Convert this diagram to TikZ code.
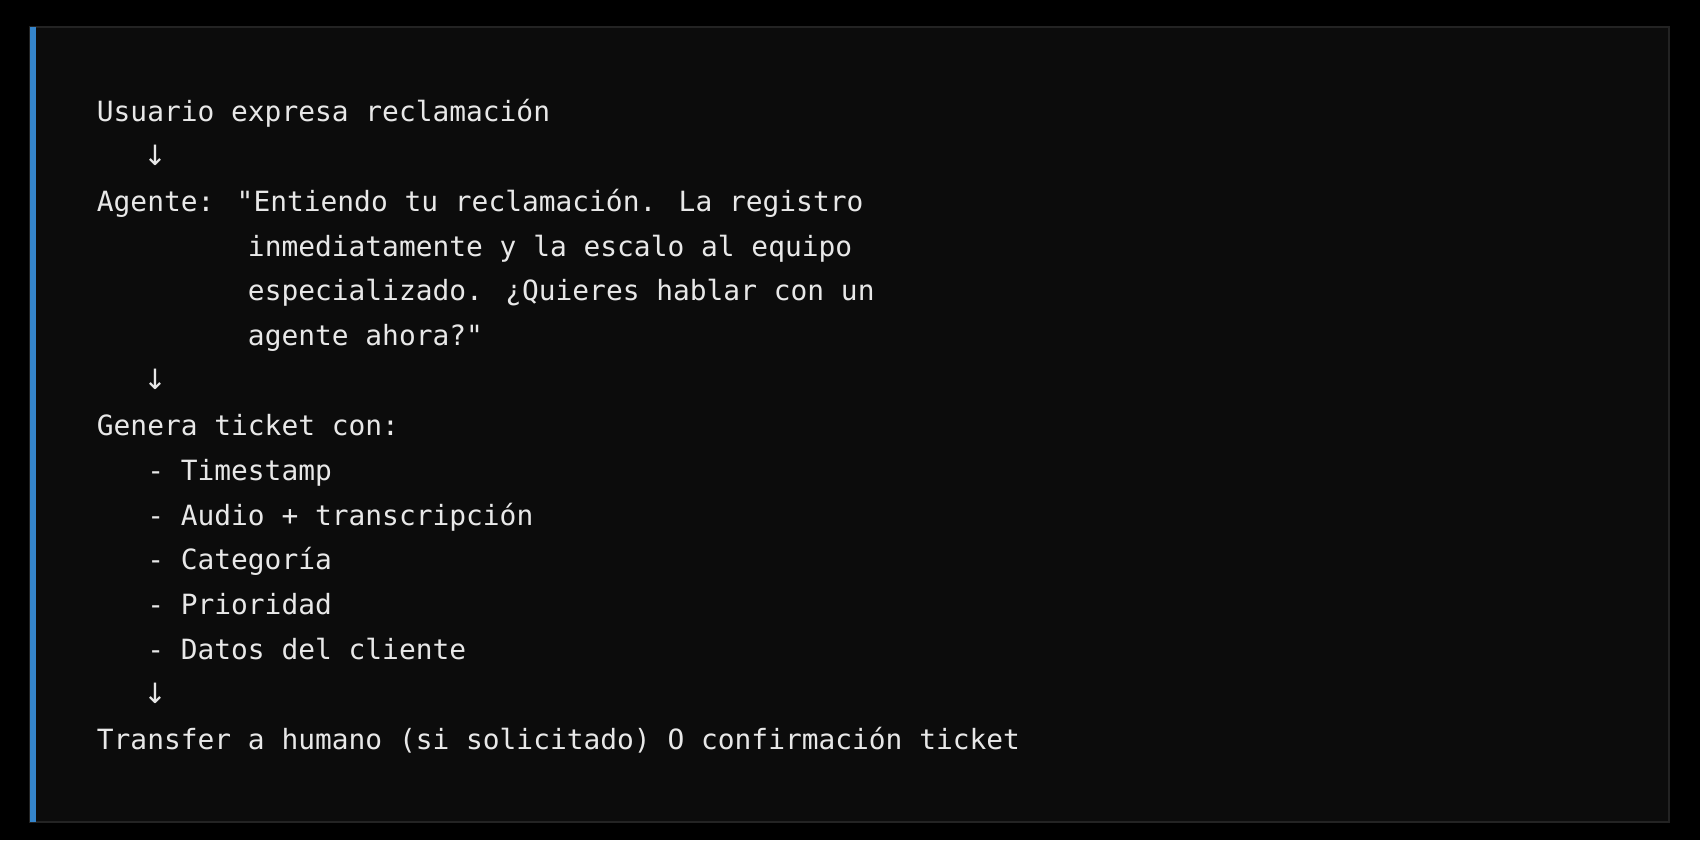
\documentclass[tikz,border=0pt]{standalone}
\usepackage{fontspec}
\newfontfamily\codefont{DejaVu Sans Mono}
\newfontfamily\arrowfont{DejaVu Sans}
\definecolor{boxbg}{HTML}{0C0C0C}
\definecolor{boxborder}{HTML}{232323}
\definecolor{accent}{HTML}{3585CB}
\definecolor{codetext}{HTML}{E8E8E8}
\begin{document}
\begin{tikzpicture}[x=0.5pt,y=-0.5pt,
  codeline/.style={anchor=base west, inner sep=0pt, text=codetext,
    font=\codefont\fontsize{13.94pt}{16pt}\selectfont},
  arrowline/.style={anchor=base, inner sep=0pt, text=codetext,
    font=\arrowfont\fontsize{14pt}{16pt}\selectfont}]
\fill[black] (0,0) rectangle (1700,840);
\path[use as bounding box] (0,0) rectangle (1700,840);
\draw[fill=boxbg, draw=boxborder, line width=1pt] (30,27) rectangle (1669,822);
\fill[accent] (30,27) rectangle (35.5,822);
\node[codeline] (l1)  at (96.5,121.5) {Usuario expresa reclamación};
\node[arrowline] (a1)  at (155,165.5) {↓};
\node[codeline] (l2)  at (96.5,211.2) {Agente: "Entiendo tu reclamación. La registro};
\node[codeline] (l3)  at (96.5,256.0) {\hphantom{xxxxxxxxx}inmediatamente y la escalo al equipo};
\node[codeline] (l4)  at (96.5,300.8) {\hphantom{xxxxxxxxx}especializado. ¿Quieres hablar con un};
\node[codeline] (l5)  at (96.5,345.7) {\hphantom{xxxxxxxxx}agente ahora?"};
\node[arrowline] (a2)  at (155,389.7) {↓};
\node[codeline] (l6)  at (96.5,435.3) {Genera ticket con:};
\node[codeline] (l7)  at (96.5,480.1) {\hphantom{xxx}- Timestamp};
\node[codeline] (l8)  at (96.5,525.0) {\hphantom{xxx}- Audio + transcripción};
\node[codeline] (l9)  at (96.5,569.8) {\hphantom{xxx}- Categoría};
\node[codeline] (l10) at (96.5,614.6) {\hphantom{xxx}- Prioridad};
\node[codeline] (l11) at (96.5,659.5) {\hphantom{xxx}- Datos del cliente};
\node[arrowline] (a3)  at (155,703.5) {↓};
\node[codeline] (l12) at (96.5,749.1) {Transfer a humano (si solicitado) O confirmación ticket};
\end{tikzpicture}
\end{document}
